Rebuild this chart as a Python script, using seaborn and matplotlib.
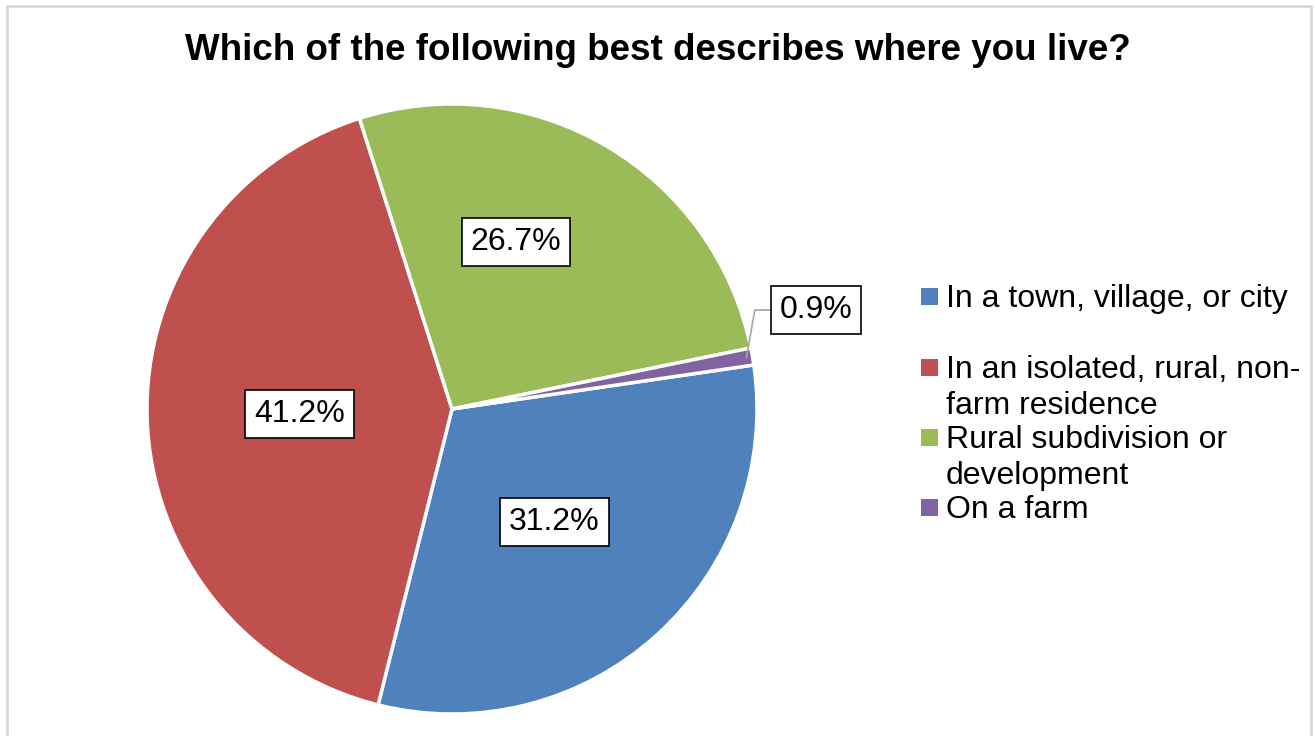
import matplotlib
matplotlib.use("Agg")
import matplotlib.pyplot as plt
import matplotlib.patches as mpatches
import numpy as np
import seaborn as sns

# data
categories = [
    "In a town, village, or city",
    "In an isolated, rural, non-\nfarm residence",
    "Rural subdivision or\ndevelopment",
    "On a farm",
]
shares = [31.2, 41.2, 26.7, 0.9]
colors = ["#4F81BD", "#C0504D", "#9BBB59", "#8064A2"]
title = "Which of the following best describes where you live?"

sns.set_theme(style="white")
plt.rcParams["font.family"] = ["Liberation Sans", "DejaVu Sans"]
plt.rcParams["text.color"] = "black"

W, H = 1315, 736
fig = plt.figure(figsize=(W / 100, H / 100), dpi=100)

# chart frame
fig.patches.append(mpatches.Rectangle((7 / W, -0.05), (1311 - 7) / W, (H - 6) / H + 0.05,
                                      transform=fig.transFigure, fill=False,
                                      edgecolor="#D9D9D9", linewidth=2))

# pie axes: centre (452, 409), radius 305 px
cx, cy, r = 452, 409, 305
ax = fig.add_axes([(cx - r) / W, (H - cy - r) / H, 2 * r / W, 2 * r / H])
fs = 23
wedges, texts, autotexts = ax.pie(
    shares, colors=colors, startangle=8.3, counterclock=False,
    autopct="%.1f%%", pctdistance=0.5,
    wedgeprops=dict(edgecolor="white", linewidth=2.5),
    textprops=dict(fontsize=fs, color="black"),
)
ax.set_xlim(-1, 1)
ax.set_ylim(-1, 1)
ax.set_aspect("equal")

box = dict(boxstyle="square,pad=0.28", facecolor="white", edgecolor="black", linewidth=1.2)
for t in autotexts:
    t.set_bbox(box)

# green label sits a bit higher in the reference
autotexts[2].set_position((64 / r, 167 / r))

# small slice label moved outside with leader line
w = wedges[3]
mid = np.deg2rad((w.theta1 + w.theta2) / 2)
edge = (0.98 * np.cos(mid), 0.98 * np.sin(mid))
autotexts[3].set_visible(False)
ax.annotate("0.9%", xy=edge, xytext=(364 / r, 99 / r), fontsize=fs,
            ha="center", va="center", bbox=box,
            arrowprops=dict(arrowstyle="-", color="#A6A6A6", linewidth=1.2,
                            connectionstyle="angle,angleA=0,angleB=80,rad=0",
                            shrinkA=0, shrinkB=0))

# title
fig.text(0.5, 1 - 50 / H, title, ha="center", va="center", fontsize=26.5,
         fontweight="bold")

# legend: marker centres in px, one baseline per text line
leg_y = [296.5, 367.5, 437.5, 507.5]
for lab, col, y in zip(categories, colors, leg_y):
    fig.patches.append(mpatches.Rectangle((921 / W, 1 - (y + 8.5) / H), 17 / W, 17 / H,
                                          transform=fig.transFigure, facecolor=col,
                                          edgecolor="none"))
    for i, line in enumerate(lab.split("\n")):
        fig.text(946 / W, 1 - (y + 10.5 + 36 * i) / H, line, ha="left",
                 va="baseline", fontsize=fs)

fig.savefig("out.png", dpi=100)
